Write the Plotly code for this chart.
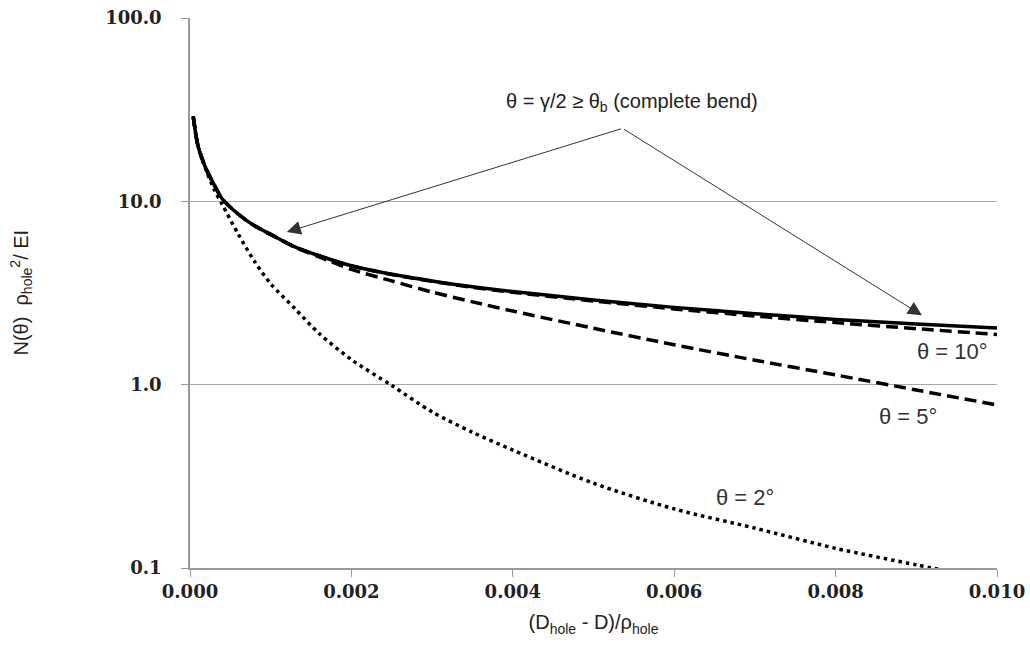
import math
import plotly.graph_objects as go

# ---------------- data ----------------
x_common = [0.00004, 0.0001, 0.0002, 0.0003, 0.0004, 0.0006, 0.0008, 0.001, 0.0013,
            0.0016, 0.002, 0.0025, 0.003, 0.0035, 0.004, 0.005, 0.006, 0.007, 0.008,
            0.009, 0.010]
complete_bend = [29, 20, 15.0, 12.3, 10.3, 8.5, 7.35, 6.6, 5.65, 5.05, 4.45, 4.0, 3.68,
                 3.42, 3.22, 2.90, 2.64, 2.44, 2.27, 2.14, 2.04]
theta_10 = [29, 20, 15.0, 12.3, 10.3, 8.5, 7.35, 6.6, 5.65, 5.05, 4.44, 3.99, 3.66,
            3.40, 3.19, 2.86, 2.59, 2.37, 2.18, 2.02, 1.88]
theta_5 = [29, 20, 15.0, 12.3, 10.3, 8.5, 7.35, 6.6, 5.62, 4.98, 4.25, 3.68, 3.20,
           2.83, 2.52, 2.03, 1.65, 1.36, 1.13, 0.935, 0.775]
x_theta2 = [0.00004, 0.0001, 0.0002, 0.0003, 0.0004, 0.0006, 0.0008, 0.001, 0.0013,
            0.0016, 0.002, 0.0025, 0.003, 0.0035, 0.004, 0.005, 0.006, 0.007, 0.008,
            0.009, 0.0093]
theta_2 = [29, 20, 14.8, 11.6, 9.6, 6.6, 4.7, 3.55, 2.6, 1.9, 1.37, 0.99, 0.71, 0.55,
           0.44, 0.29, 0.21, 0.165, 0.128, 0.104, 0.098]

x_ticks = [0.0, 0.002, 0.004, 0.006, 0.008, 0.010]
x_ticktext = ["0.000", "0.002", "0.004", "0.006", "0.008", "0.010"]
y_ticks = [0.1, 1, 10, 100]
y_ticktext = ["0.1", "1.0", "10.0", "100.0"]

# arrow annotation: common tail and two tips (data units)
arrow_tail = (0.00536, 25.0)
arrow_tips = [(0.00120, 6.8), (0.00907, 2.39)]
arrow_text_pos = (0.00548, 34.5)

curve_labels = [("θ = 10°", 0.00945, 1.51), ("θ = 5°", 0.00890, 0.67), ("θ = 2°", 0.00688, 0.243)]

# ---------------- figure ----------------
fig = go.Figure()
fig.add_trace(go.Scatter(x=x_theta2, y=theta_2, mode="lines", name="θ = 2°",
                         line=dict(color="black", width=3.5, dash="3.5px,4px", shape="spline", smoothing=0.8)))
fig.add_trace(go.Scatter(x=x_common, y=theta_5, mode="lines", name="θ = 5°",
                         line=dict(color="black", width=3.5, dash="12px,6px", shape="spline", smoothing=0.8)))
fig.add_trace(go.Scatter(x=x_common, y=theta_10, mode="lines", name="θ = 10°",
                         line=dict(color="black", width=3.5, dash="12px,6px", shape="spline", smoothing=0.8)))
fig.add_trace(go.Scatter(x=x_common, y=complete_bend, mode="lines", name="complete bend",
                         line=dict(color="black", width=3.5, shape="spline", smoothing=0.8)))

annotations = []
for tx, ty in arrow_tips:
    annotations.append(dict(x=tx, y=math.log10(ty), xref="x", yref="y",
                            ax=arrow_tail[0], ay=math.log10(arrow_tail[1]), axref="x", ayref="y",
                            text="", showarrow=True, arrowhead=2, arrowsize=2.8,
                            arrowwidth=1.0, arrowcolor="#333333", standoff=0))
annotations.append(dict(x=arrow_text_pos[0], y=math.log10(arrow_text_pos[1]), xref="x", yref="y",
                        text="θ = γ/2 ≥ θ<sub>b</sub> (complete bend)", showarrow=False,
                        font=dict(family="Liberation Sans", size=20, color="#222222")))
for txt, lx, ly in curve_labels:
    annotations.append(dict(x=lx, y=math.log10(ly), xref="x", yref="y", text=txt,
                            showarrow=False,
                            font=dict(family="Liberation Sans", size=22, color="#333333")))
# y-axis title
annotations.append(dict(x=-0.21, y=0.5, xref="paper", yref="paper",
                        text="N(θ)  ρ<sub>hole</sub><sup>2</sup>/ EI", textangle=-90,
                        showarrow=False, xanchor="center", yanchor="middle",
                        font=dict(family="Liberation Sans", size=20, color="#222222")))

fig.update_layout(
    width=1030, height=655,
    margin=dict(l=190, r=33, t=18, b=87),
    paper_bgcolor="white", plot_bgcolor="white",
    showlegend=False,
    annotations=annotations,
    xaxis=dict(range=[0, 0.010], tickvals=x_ticks, ticktext=x_ticktext, automargin=False,
               showgrid=False, zeroline=False, showline=True, linecolor="#999999", linewidth=1.5,
               ticks="outside", ticklen=7, tickcolor="#999999",
               tickfont=dict(family="DejaVu Serif", size=18, color="#222222", weight="bold"),
               title=dict(text="(D<sub>hole</sub> - D)/ρ<sub>hole</sub>", standoff=14,
                          font=dict(family="Liberation Sans", size=20, color="#222222"))),
    yaxis=dict(type="log", range=[-1, 2], tickvals=y_ticks, ticktext=y_ticktext, automargin=False,
               showgrid=True, gridcolor="#a8a8a8", gridwidth=1.2, zeroline=False,
               showline=True, linecolor="#999999", linewidth=1.5,
               ticks="outside", ticklen=7, tickcolor="#999999", ticklabelstandoff=16,
               tickfont=dict(family="DejaVu Serif", size=18, color="#222222", weight="bold")),
)

fig.write_html("out.html", config={"displayModeBar": False},
               post_script="document.body.style.margin='0';")
